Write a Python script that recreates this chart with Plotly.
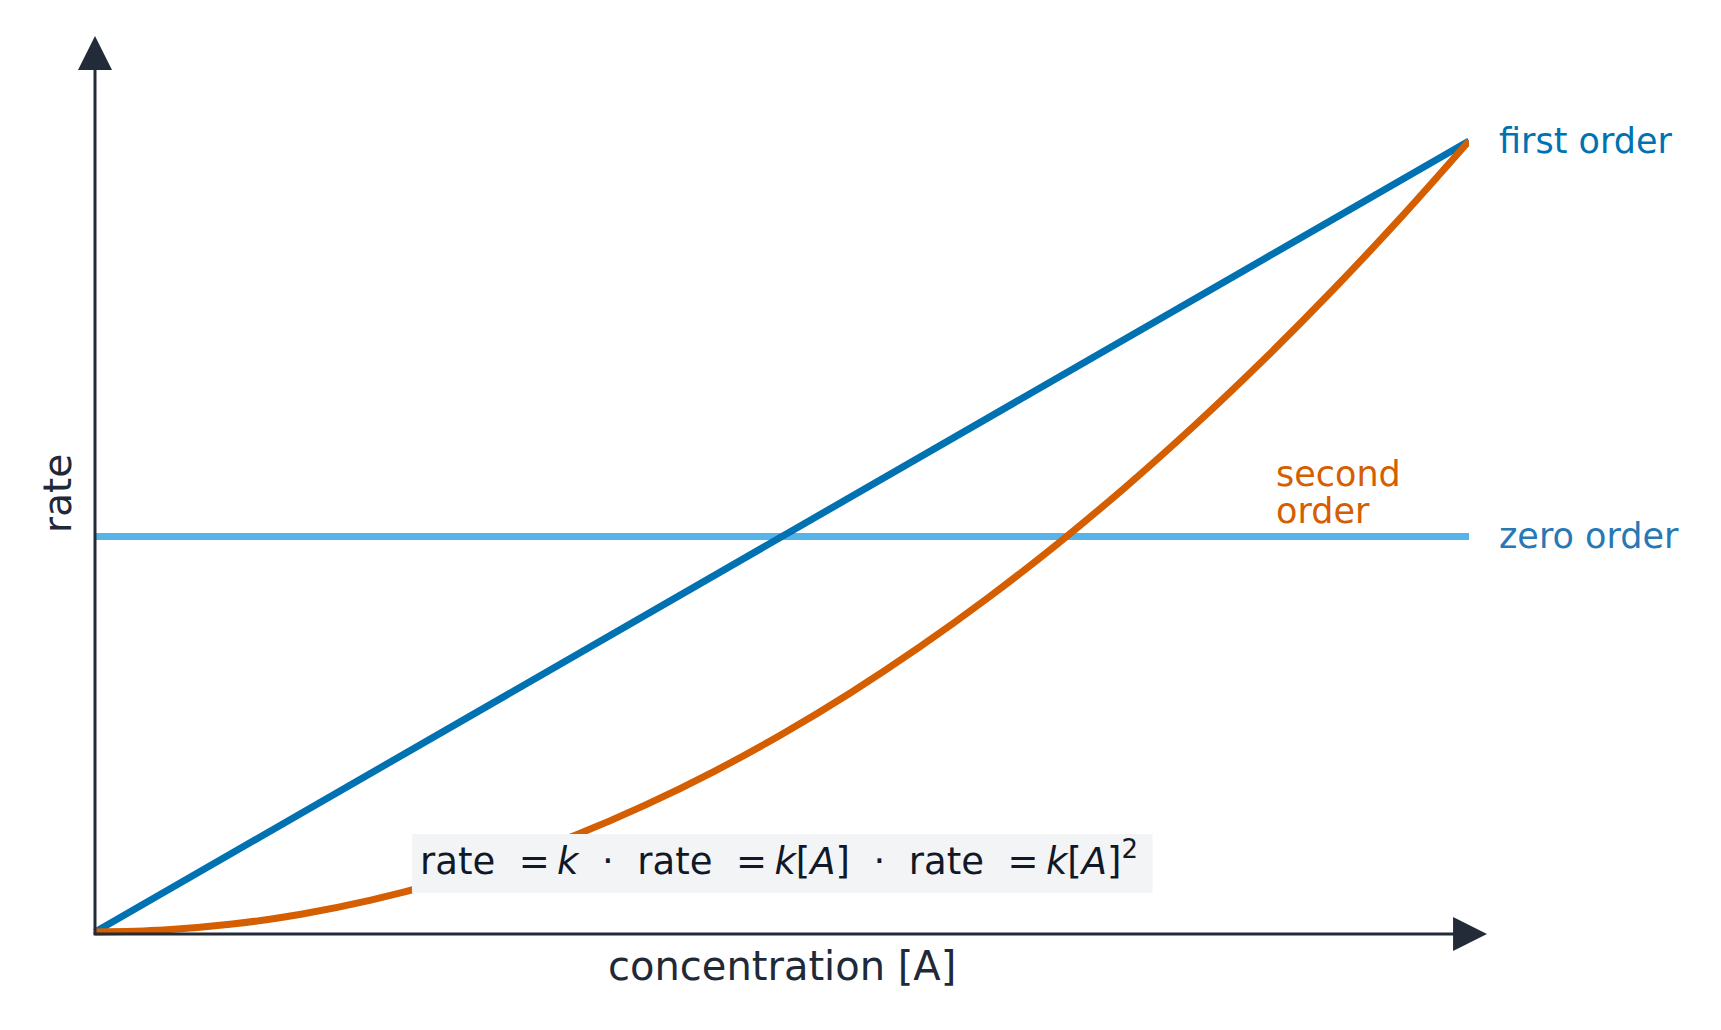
import plotly.graph_objects as go

# values
conc = [0.0, 0.05, 0.1, 0.15, 0.2, 0.25, 0.3, 0.35, 0.4, 0.45, 0.5,
        0.55, 0.6, 0.65, 0.7, 0.75, 0.8, 0.85, 0.9, 0.95, 1.0]
zero_rate = [0.5, 0.5, 0.5, 0.5, 0.5, 0.5, 0.5, 0.5, 0.5, 0.5, 0.5,
             0.5, 0.5, 0.5, 0.5, 0.5, 0.5, 0.5, 0.5, 0.5, 0.5]
first_rate = [0.0, 0.05, 0.1, 0.15, 0.2, 0.25, 0.3, 0.35, 0.4, 0.45, 0.5,
              0.55, 0.6, 0.65, 0.7, 0.75, 0.8, 0.85, 0.9, 0.95, 1.0]
second_rate = [0.0, 0.0025, 0.01, 0.0225, 0.04, 0.0625, 0.09, 0.1225, 0.16, 0.2025, 0.25,
               0.3025, 0.36, 0.4225, 0.49, 0.5625, 0.64, 0.7225, 0.81, 0.9025, 1.0]

BLUE = "#0072b2"
ORANGE = "#d55e00"
SKY = "#56b4e9"
AXIS = "#232b39"
TEXT = "#1f2937"
FONT = "DejaVu Sans"

XR = [-0.01092, 1.0]
YR = [-0.02276, 1.14033]
PX_X = 1374.0  # pixels per x unit
PX_Y = 791.0   # pixels per y unit


def dx(v):
    return (v - XR[0]) / (XR[1] - XR[0])


def dy(v):
    return (v - YR[0]) / (YR[1] - YR[0])


fig = go.Figure()
fig.add_trace(go.Scatter(x=conc, y=zero_rate, mode="lines",
                         line=dict(color=SKY, width=7), hoverinfo="skip"))
fig.add_trace(go.Scatter(x=conc, y=first_rate, mode="lines",
                         line=dict(color=BLUE, width=7), hoverinfo="skip"))
fig.add_trace(go.Scatter(x=conc, y=second_rate, mode="lines",
                         line=dict(color=ORANGE, width=7, shape="spline"),
                         hoverinfo="skip"))

shapes = []
# axes with arrow heads
y_line = -2 / PX_Y
y_tip = 1.1327
y_base = 1.0898
x_base = 0.9884
x_tip = 1.0131
hw_x = 17 / PX_X
hw_y = 17 / PX_Y
shapes.append(dict(type="line", xref="x domain", yref="y domain",
                   x0=dx(0), x1=dx(0), y0=dy(y_line), y1=dy(y_base + 0.003),
                   line=dict(color=AXIS, width=3)))
shapes.append(dict(type="line", xref="x domain", yref="y domain",
                   x0=dx(0) - 1.5 / 1389, x1=dx(x_base + 0.003), y0=dy(y_line), y1=dy(y_line),
                   line=dict(color=AXIS, width=3)))
shapes.append(dict(type="path", xref="x domain", yref="y domain",
                   path="M %f,%f L %f,%f L %f,%f Z" % (
                       dx(0), dy(y_tip), dx(-hw_x), dy(y_base), dx(hw_x), dy(y_base)),
                   fillcolor=AXIS, line=dict(width=0)))
shapes.append(dict(type="path", xref="x domain", yref="y domain",
                   path="M %f,%f L %f,%f L %f,%f Z" % (
                       dx(x_tip), dy(y_line), dx(x_base), dy(y_line + hw_y),
                       dx(x_base), dy(y_line - hw_y)),
                   fillcolor=AXIS, line=dict(width=0)))
# formula box
shapes.append(dict(type="rect", xref="x", yref="y",
                   x0=0.2307, x1=0.7697, y0=0.0493, y1=0.1239,
                   fillcolor="#f3f4f6", line=dict(width=0), layer="above"))

annotations = [
    dict(x=1.0204, y=1.0, text="first order", xanchor="left", yanchor="middle",
         font=dict(size=35, color=BLUE)),
    dict(x=1.0204, y=0.5, text="zero order", xanchor="left", yanchor="middle",
         font=dict(size=35, color="#2878b5")),
    dict(x=0.858, y=0.579, text="second", xanchor="left", yanchor="middle",
         font=dict(size=35, color=ORANGE)),
    dict(x=0.858, y=0.532, text="order", xanchor="left", yanchor="middle",
         font=dict(size=35, color=ORANGE)),
    dict(x=0.4976, y=0.0928,
         text="rate  =&#8201;<i>k</i>  ·  rate  =&#8201;<i>k</i>[<i>A</i>]  ·  "
              "rate  =&#8201;<i>k</i>[<i>A</i>]<sup>2</sup>",
         xanchor="center", yanchor="middle", font=dict(size=37, color="#111827")),
    dict(x=0.5, y=-0.043, text="concentration [A]", xanchor="center", yanchor="middle",
         font=dict(size=40, color=TEXT)),
    dict(x=-0.027, y=0.555, text="rate", textangle=-90, xanchor="center", yanchor="middle",
         font=dict(size=39, color=TEXT)),
]
for a in annotations:
    a["x"] = dx(a["x"])
    a["y"] = dy(a["y"])
    a.update(xref="paper", yref="paper", showarrow=False)

fig.update_layout(
    width=1705, height=1014,
    margin=dict(l=72, r=244, t=22, b=72),
    paper_bgcolor="white", plot_bgcolor="white",
    showlegend=False,
    font=dict(family=FONT),
    shapes=shapes,
    annotations=annotations,
    xaxis=dict(range=XR, visible=False, fixedrange=True),
    yaxis=dict(range=YR, visible=False, fixedrange=True),
)

fig.write_html("out.html")
